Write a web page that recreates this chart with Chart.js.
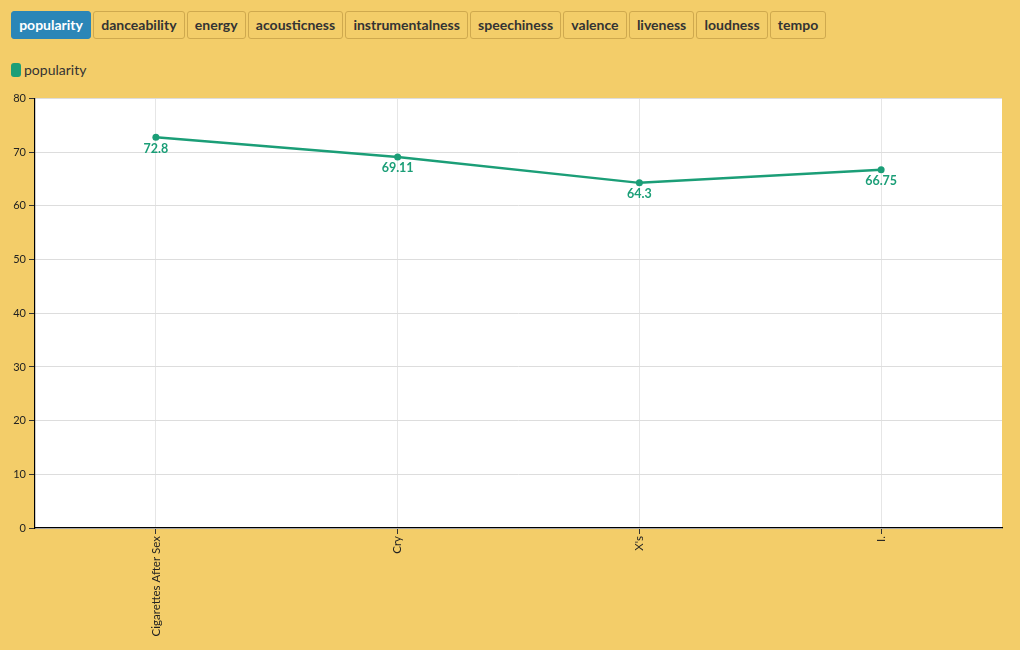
<!DOCTYPE html>
<html><head><meta charset="utf-8">
<script src="https://cdn.jsdelivr.net/npm/chart.js@4.4.1/dist/chart.umd.min.js"></script>
<style>
html,body{margin:0;padding:0;background:#f3cd69;width:1020px;height:650px;overflow:hidden;font-family:"Source Sans Pro","Lato","Open Sans",sans-serif;}
#btns{position:absolute;left:11px;top:11px;display:flex;gap:2px;}
.b{height:28px;box-sizing:border-box;padding:0 7.15px;line-height:26px;border:1px solid #cfa94e;border-radius:3px;font-weight:bold;font-size:14px;color:#333;background:#f3cd69;}
.b.on{background:#2b86b7;border-color:#2b86b7;color:#fff;}
#leg{position:absolute;left:11px;top:61px;font-size:14px;color:#333;display:flex;align-items:center;}
#leg span.sw{display:inline-block;width:10px;height:14px;border-radius:3px;background:#1b9e77;margin-right:3px;}
#wrap{position:absolute;left:0;top:89px;width:1020px;height:561px;}
</style></head><body>
<div id="btns"></div>
<div id="leg"><span class="sw"></span>popularity</div>
<div id="wrap"><canvas id="c"></canvas></div>
<script>
const metrics = ["popularity","danceability","energy","acousticness","instrumentalness","speechiness","valence","liveness","loudness","tempo"];
const categories = ["Cigarettes After Sex","Cry","X's","I."];
const popularity = [72.8,69.11,64.3,66.75];
const yTicks = [0,10,20,30,40,50,60,70,80];

const bd = document.getElementById('btns');
metrics.forEach((m,i)=>{const d=document.createElement('div');d.className='b'+(i===0?' on':'');d.textContent=m;bd.appendChild(d);});

const green = '#1b9e77';
const labelPlugin = {
  id:'vlabels',
  afterDatasetsDraw(chart){
    const ctx=chart.ctx;
    const meta=chart.getDatasetMeta(0);
    ctx.save();
    ctx.fillStyle=green;
    ctx.font='bold 12.5px "Source Sans Pro", Lato, sans-serif';
    ctx.textAlign='center';ctx.textBaseline='top';
    meta.data.forEach((p,i)=>{ctx.fillText(String(popularity[i]),p.x,p.y+5);});
    ctx.restore();
  }
};
const bgPlugin = {
  id:'plotbg',
  beforeDraw(chart){
    const {ctx,chartArea:a}=chart;
    ctx.save();ctx.fillStyle='#fff';ctx.fillRect(a.left,a.top,a.right-a.left,a.bottom-a.top);ctx.restore();
  }
};

new Chart(document.getElementById('c'),{
  type:'line',
  data:{labels:categories,datasets:[{label:'popularity',data:popularity,borderColor:green,backgroundColor:green,borderWidth:2.5,pointRadius:3.5,pointBackgroundColor:green,pointBorderWidth:0,tension:0}]},
  options:{
    responsive:true,maintainAspectRatio:false,animation:false,
    layout:{padding:{top:9,right:18,left:0,bottom:0}},
    plugins:{legend:{display:false},tooltip:{enabled:false}},
    scales:{
      x:{offset:true,
        grid:{offset:false,color:'#e6e6e6',drawTicks:true,tickLength:6,tickColor:'#333'},
        border:{color:'#000',width:1.2},
        ticks:{color:'#222',font:{size:11.5,family:'"Source Sans Pro", Lato, sans-serif'},maxRotation:90,minRotation:90,padding:2},
        afterFit(s){s.height=122;}
      },
      y:{min:0,max:80,
        afterBuildTicks(s){s.ticks=yTicks.map(v=>({value:v}));},
        grid:{color:'#dddddd',tickLength:6,tickColor:'#333'},
        border:{color:'#000',width:1.2},
        ticks:{color:'#222',font:{size:11,family:'"Source Sans Pro", Lato, sans-serif'},padding:3},
        afterFit(s){s.width=35;}
      }
    }
  },
  plugins:[bgPlugin,labelPlugin]
});
</script>
</body></html>
